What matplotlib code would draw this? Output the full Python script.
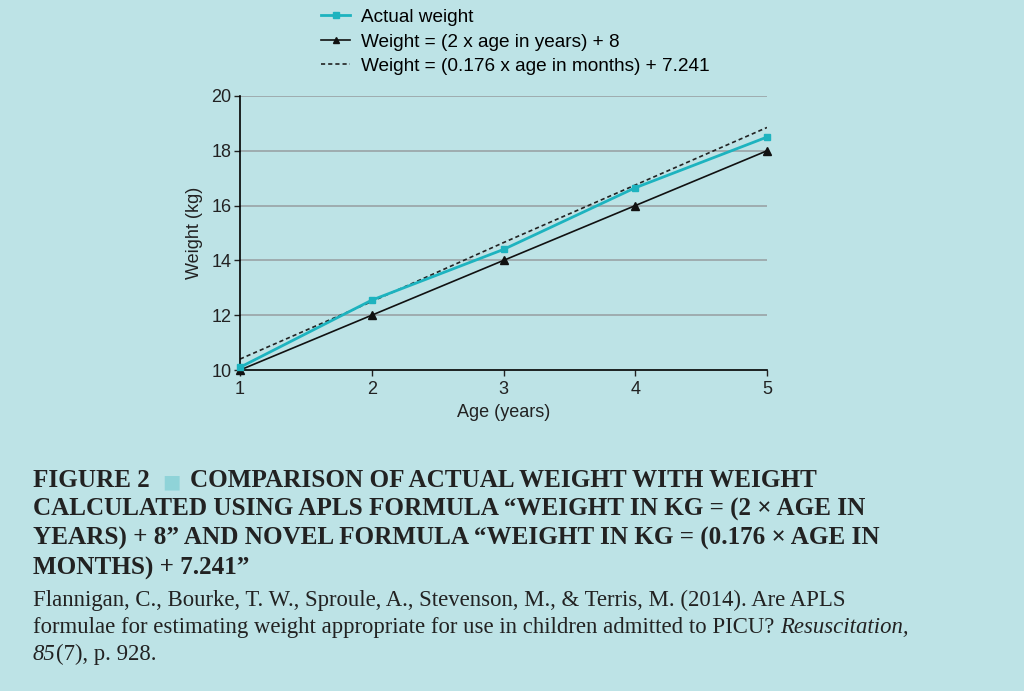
import matplotlib.pyplot as plt
from matplotlib.lines import Line2D

# dados
idade = [1, 2, 3, 4, 5]
peso_real = [10.1, 12.55, 14.4, 16.65, 18.5]
peso_apls = [10.0, 12.0, 14.0, 16.0, 18.0]
peso_novo = [10.4, 12.5, 14.65, 16.75, 18.85]
y_ticks = [10, 12, 14, 16, 18, 20]

fundo = '#bde3e6'
ciano = '#1db3bf'
sans = 'Liberation Sans'
serif = 'Liberation Serif'

fig = plt.figure(figsize=(10.24, 6.91), dpi=100, facecolor=fundo)
ax = fig.add_axes([0.2344, 0.4645, 0.5146, 0.3966], facecolor=fundo)

for y in y_ticks[1:]:
    ax.axhline(y, color='#9aa3a6', lw=1.2, zorder=1)

ax.plot(idade, peso_novo, color='#222222', lw=1.2, ls=(0, (2.5, 1.8)), zorder=2)
ax.plot(idade, peso_apls, color='#111111', lw=1.2, marker='^', ms=5.5, zorder=3,
        clip_on=False)
ax.plot(idade, peso_real, color=ciano, lw=2, marker='s', ms=5, zorder=4, clip_on=False)

ax.set_xlim(1, 5)
ax.set_ylim(10, 20)
ax.set_xticks(idade)
ax.set_yticks(y_ticks)
ax.tick_params(labelsize=13, length=4, width=1, colors='#222222', pad=2)
ax.tick_params(axis='x', pad=4)
for lab in ax.get_xticklabels() + ax.get_yticklabels():
    lab.set_family(sans)
ax.spines['top'].set_visible(False)
ax.spines['right'].set_visible(False)
ax.spines['left'].set_linewidth(1.2)
ax.spines['bottom'].set_linewidth(1.2)
ax.set_xlabel('Age (years)', fontsize=13, labelpad=4, color='#222222', family=sans)
ax.set_ylabel('Weight (kg)', fontsize=13, labelpad=6, color='#222222', family=sans)

handles = [
    Line2D([], [], color=ciano, lw=2, marker='s', ms=4),
    Line2D([], [], color='#111111', lw=1.2, marker='^', ms=5),
    Line2D([], [], color='#222222', lw=1.2, ls=(0, (2.5, 1.8))),
]
labels = ['Actual weight', 'Weight = (2 x age in years) + 8',
          'Weight = (0.176 x age in months) + 7.241']
fig.legend(handles, labels, loc='upper left', bbox_to_anchor=(0.297, 1.012),
           frameon=False, prop={'family': sans, 'size': 13.7}, handlelength=1.5,
           labelspacing=0.37, handletextpad=0.6)

# legenda da figura
fig.canvas.draw()
rend = fig.canvas.get_renderer()
W = fig.bbox.width


def em_linha(pedacos, x0, y_px):
    # escreve pedaços de texto lado a lado na mesma linha
    x = x0
    for txt, kw, gap in pedacos:
        t = fig.text(x / W, 1 - y_px / 691, txt, va='baseline', **kw)
        x += t.get_window_extent(rend).width + gap


cap_kw = dict(family=serif, fontweight='bold', fontsize=18.1, color='#222222')
sq_kw = dict(family='DejaVu Sans', fontsize=14, color='#8fd3d8')
ref_kw = dict(family=serif, fontsize=16.4, color='#222222')
it_kw = dict(ref_kw, style='italic')

em_linha([('FIGURE 2', cap_kw, 12), ('\u25a0', sq_kw, 10),
          ('COMPARISON OF ACTUAL WEIGHT WITH WEIGHT', cap_kw, 0)], 33, 487)
em_linha([('CALCULATED USING APLS FORMULA \u201cWEIGHT IN KG = (2 \u00d7 AGE IN', cap_kw, 0)], 33, 516)
em_linha([('YEARS) + 8\u201d AND NOVEL FORMULA \u201cWEIGHT IN KG = (0.176 \u00d7 AGE IN', cap_kw, 0)], 33, 545)
em_linha([('MONTHS) + 7.241\u201d', cap_kw, 0)], 33, 575)
em_linha([('Flannigan, C., Bourke, T. W., Sproule, A., Stevenson, M., & Terris, M. (2014). Are APLS',
           ref_kw, 0)], 33, 606)
em_linha([('formulae for estimating weight appropriate for use in children admitted to PICU? ',
           ref_kw, 0), ('Resuscitation,', it_kw, 0)], 33, 633)
em_linha([('85', it_kw, 0), ('(7), p. 928.', ref_kw, 0)], 33, 660)

fig.savefig('out.png', dpi=100, facecolor=fundo)
